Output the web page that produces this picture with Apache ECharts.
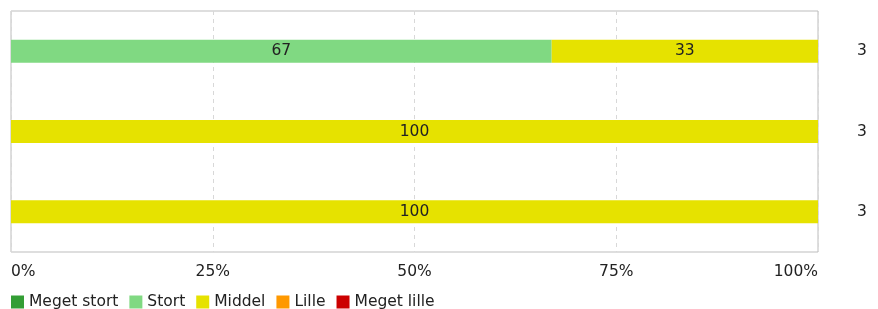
<!DOCTYPE html>
<html>
<head>
<meta charset="utf-8">
<script src="https://cdn.jsdelivr.net/npm/echarts@6/dist/echarts.min.js"></script>
<style>
  html, body { margin: 0; padding: 0; background: #fff; }
  #chart { width: 878px; height: 309px; }
</style>
</head>
<body>
<div id="chart"></div>
<script>
// rows, top to bottom
var rows = ['A', 'B', 'C'];
var counts = ['3', '3', '3'];
var seriesNames = ['Meget stort', 'Stort', 'Middel', 'Lille', 'Meget lille'];
var seriesColors = ['#339e35', '#80d982', '#e6e200', '#ff9900', '#cc0000'];
var megetStort = [0, 0, 0];
var stort = [67, 0, 0];
var middel = [33, 100, 100];
var lille = [0, 0, 0];
var megetLille = [0, 0, 0];
var xTicks = [0, 25, 50, 75, 100];

initBarChart();

function initBarChart() {
  var dom = document.getElementById("chart");
  var myChart = echarts.init(dom);
  var values = [megetStort, stort, middel, lille, megetLille];
  var font = 'DejaVu Sans';

  var series = [];
  for (var i = 0; i < seriesNames.length; i++) {
    series.push({
      name: seriesNames[i],
      type: 'bar',
      stack: 'total',
      barWidth: 23,
      itemStyle: {color: seriesColors[i]},
      label: {
        show: true,
        position: 'inside',
        color: '#222',
        fontFamily: font,
        fontSize: 15.5,
        formatter: function (p) { return p.value > 0 ? p.value : ''; }
      },
      data: values[i]
    });
  }

  var option = {
    backgroundColor: '#fff',
    animation: false,
    textStyle: {fontFamily: font},
    grid: {left: 11, right: 60, top: 11, bottom: 57, show: true, borderColor: '#bdbdbd', borderWidth: 1},
    legend: {
      left: 6,
      top: 289,
      itemWidth: 13,
      itemHeight: 13,
      itemGap: 11,
      icon: 'rect',
      textStyle: {fontFamily: font, fontSize: 15.5, color: '#222'},
      data: seriesNames
    },
    xAxis: {
      type: 'value',
      min: xTicks[0],
      max: xTicks[xTicks.length - 1],
      interval: 25,
      axisLine: {show: false},
      axisTick: {show: false},
      splitLine: {show: true, lineStyle: {color: '#d8d8d8', type: [4, 4]}},
      axisLabel: {
        margin: 12,
        color: '#222',
        fontFamily: font,
        fontSize: 15.5,
        alignMinLabel: 'left',
        alignMaxLabel: 'right',
        formatter: '{value}%'
      }
    },
    yAxis: [
      {
        type: 'category',
        inverse: true,
        data: rows,
        axisLine: {show: false},
        axisTick: {show: false},
        axisLabel: {show: false}
      },
      {
        type: 'category',
        inverse: true,
        position: 'right',
        data: counts,
        axisLine: {show: false},
        axisTick: {show: false},
        axisLabel: {margin: 39, color: '#222', fontFamily: font, fontSize: 15.5}
      }
    ],
    series: series
  };

  myChart.setOption(option, true);
}
</script>
</body>
</html>
